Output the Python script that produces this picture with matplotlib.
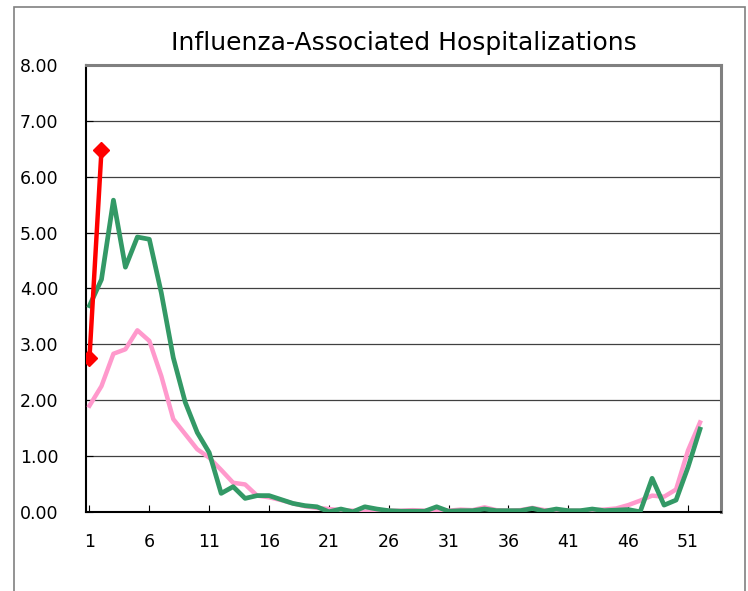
import numpy as np
import matplotlib.pyplot as plt
from matplotlib.patches import Rectangle

weeks = np.arange(1, 53)

current_season = [2.76, 6.47]

prev_season = [3.69, 4.16, 5.58, 4.38, 4.92, 4.88, 3.92, 2.76, 1.96, 1.42,
               1.06, 0.33, 0.45, 0.24, 0.29, 0.29, 0.22, 0.15, 0.11, 0.09,
               0.00, 0.05, 0.00, 0.09, 0.05, 0.02, 0.01, 0.01, 0.01, 0.09,
               0.01, 0.02, 0.02, 0.05, 0.02, 0.02, 0.02, 0.06, 0.01, 0.05,
               0.02, 0.02, 0.05, 0.02, 0.03, 0.04, 0.00, 0.60, 0.12, 0.21,
               0.80, 1.48]

avg_season = [1.90, 2.25, 2.83, 2.91, 3.25, 3.06, 2.43, 1.66, 1.39, 1.12,
              0.97, 0.75, 0.52, 0.49, 0.29, 0.26, 0.21, 0.15, 0.10, 0.07,
              0.05, 0.03, 0.02, 0.00, 0.02, 0.02, 0.02, 0.03, 0.02, 0.03,
              0.02, 0.04, 0.03, 0.08, 0.03, 0.02, 0.03, 0.07, 0.03, 0.03,
              0.02, 0.02, 0.03, 0.04, 0.06, 0.12, 0.20, 0.29, 0.27, 0.40,
              1.10, 1.60]

xticks = np.arange(1, 52, 5)
yticks = np.arange(0, 9, 1)

plt.rcParams['font.family'] = ['DejaVu Sans']

fig = plt.figure(figsize=(7.48, 5.91), dpi=100)
ax = fig.add_axes([0.115, 0.134, 0.849, 0.756])

# outer chart border
fig.patches.append(Rectangle((14/748, -0.05), (745-14)/748, 1.05 - 7/591,
                             transform=fig.transFigure, fill=False,
                             edgecolor='#808080', linewidth=1.2, clip_on=False))

ax.plot(weeks, avg_season, color='#FF99CC', linewidth=3.2, zorder=3)
ax.plot(weeks, prev_season, color='#339966', linewidth=3.4, zorder=4)
ax.plot(weeks[:len(current_season)], current_season, color='#FF0000',
        linewidth=3.2, marker='D', markersize=8, zorder=5)

ax.set_xlim(0.71, 53.76)
ax.set_ylim(0, 8)
ax.set_xticks(xticks)
ax.set_yticks(yticks)
ax.set_yticklabels(['%.2f' % v for v in yticks])
ax.tick_params(axis='x', direction='in', length=5, width=0.8, pad=15, labelsize=12.5)
ax.tick_params(axis='y', direction='in', length=5, width=0.8, pad=20, labelsize=12.5)
ax.yaxis.grid(True, color='#404040', linewidth=0.9)
ax.set_axisbelow(True)

for s in ['left', 'bottom']:
    ax.spines[s].set_color('black')
    ax.spines[s].set_linewidth(1.5)
for s in ['top', 'right']:
    ax.spines[s].set_color('#808080')
    ax.spines[s].set_linewidth(2.2)

ax.set_title('Influenza-Associated Hospitalizations', fontsize=18, pad=11)

fig.savefig('out.png', dpi=100)
